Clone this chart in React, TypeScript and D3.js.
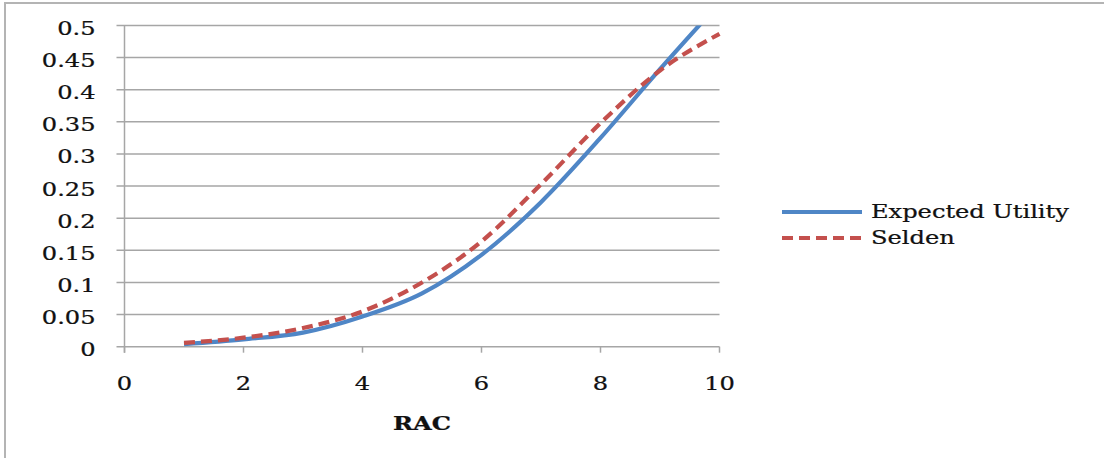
import React from "react";
import * as d3 from "d3";

// RAC values and the probability curves for the two models
const racValues = [1, 2, 3, 4, 5, 6, 7, 8, 9, 10];
const expectedUtility = [0.004, 0.0115, 0.022, 0.047, 0.083, 0.143, 0.225, 0.325, 0.432, 0.535];
const selden = [0.006, 0.014, 0.029, 0.055, 0.1, 0.164, 0.253, 0.348, 0.43, 0.487];

const xTicks = [0, 2, 4, 6, 8, 10];
const yTicks = [0, 0.05, 0.1, 0.15, 0.2, 0.25, 0.3, 0.35, 0.4, 0.45, 0.5];

const seriesNames = ["Expected Utility", "Selden"];

const W = 1104;
const H = 458;
const plot = { left: 124.5, right: 719.5, top: 25.5, bottom: 346.7 };
const FONT = "'DejaVu Serif', serif";
const SX = 1.34; // horizontal stretch applied to all labels
const BLUE = "#4F86C6";
const RED = "#C4504D";
const GRID = "#A6A6A6";

function Label(props: {
  x: number;
  y: number;
  anchor: "start" | "middle" | "end";
  text: string;
  size?: number;
  bold?: boolean;
}) {
  const { x, y, anchor, text, size = 18, bold = false } = props;
  return (
    <text
      transform={`translate(${x},${y}) scale(${SX},1)`}
      textAnchor={anchor}
      fontFamily={FONT}
      fontSize={size}
      fontWeight={bold ? "bold" : "normal"}
      fill="#111"
      stroke="#111"
      strokeWidth={0.25}
    >
      {text}
    </text>
  );
}

export default function App() {
  const x = d3.scaleLinear().domain([0, 10]).range([plot.left, plot.right]);
  const y = d3.scaleLinear().domain([0, 0.5]).range([plot.bottom, plot.top]);

  const line = d3
    .line<number>()
    .x((_, i) => x(racValues[i]))
    .y((d) => y(d))
    .curve(d3.curveMonotoneX);

  return (
    <svg
      width={W}
      height={H}
      style={{ position: "absolute", left: 0, top: 0, background: "#fff" }}
    >
      {/* chart frame */}
      <rect x={5} y={3} width={W + 20} height={H + 20} fill="#fff" stroke="#B4B4B4" strokeWidth={2} />

      <defs>
        <clipPath id="plotClip">
          <rect x={plot.left} y={plot.top} width={plot.right - plot.left + 4} height={plot.bottom - plot.top + 4} />
        </clipPath>
      </defs>

      {/* horizontal gridlines with y ticks */}
      {yTicks.map((t) => (
        <line
          key={`g${t}`}
          x1={plot.left - 8}
          x2={plot.right}
          y1={y(t)}
          y2={y(t)}
          stroke={GRID}
          strokeWidth={1.5}
        />
      ))}

      {/* y axis */}
      <line x1={plot.left} x2={plot.left} y1={plot.top} y2={plot.bottom + 6} stroke={GRID} strokeWidth={1.5} />
      {/* x axis ticks */}
      {xTicks.map((t) => (
        <line
          key={`xt${t}`}
          x1={x(t)}
          x2={x(t)}
          y1={plot.bottom}
          y2={plot.bottom + 6}
          stroke={GRID}
          strokeWidth={1.5}
        />
      ))}

      {/* y tick labels */}
      {yTicks.map((t) => (
        <Label key={`yl${t}`} x={95.5} y={y(t) + 9.5} anchor="end" text={String(t)} />
      ))}

      {/* x tick labels */}
      {xTicks.map((t) => (
        <Label key={`xl${t}`} x={x(t)} y={389.5} anchor="middle" text={String(t)} />
      ))}

      <Label x={(plot.left + plot.right) / 2} y={430} anchor="middle" text="RAC" bold />

      {/* series */}
      <g clipPath="url(#plotClip)">
        <path d={line(expectedUtility) || ""} fill="none" stroke={BLUE} strokeWidth={4.2} strokeLinejoin="round" />
        <path
          d={line(selden) || ""}
          fill="none"
          stroke={RED}
          strokeWidth={4.2}
          strokeDasharray="11,6"
        />
      </g>

      {/* legend */}
      <line x1={782} x2={862} y1={212} y2={212} stroke={BLUE} strokeWidth={4} />
      <Label x={871} y={217.5} anchor="start" text={seriesNames[0]} />
      <line x1={782} x2={862} y1={238} y2={238} stroke={RED} strokeWidth={4} strokeDasharray="11,6" />
      <Label x={871} y={243.5} anchor="start" text={seriesNames[1]} />
    </svg>
  );
}
